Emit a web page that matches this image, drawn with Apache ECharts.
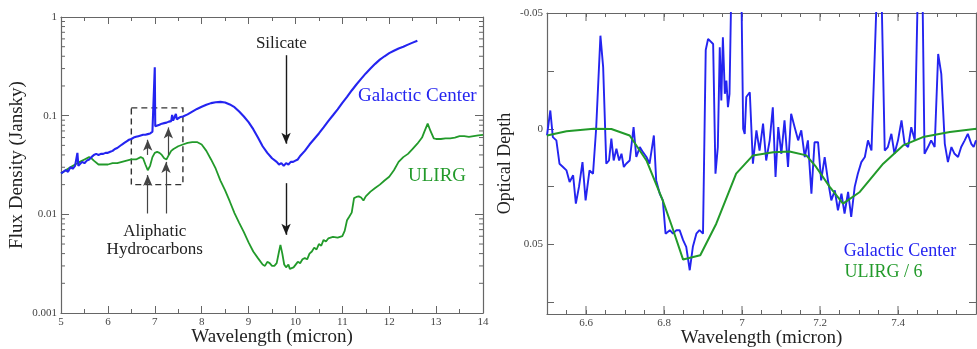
<!DOCTYPE html>
<html><head><meta charset="utf-8">
<script src="https://cdn.jsdelivr.net/npm/echarts@6/dist/echarts.min.js"></script>
<style>html,body{margin:0;padding:0;background:#fff}#c{width:977px;height:349px}</style>
</head><body><div id="c"></div>
<script>
// ---------- data ----------
const galacticCenterFlux = [
[5.00,0.026],[5.05,0.027],[5.10,0.028],[5.15,0.027],[5.20,0.030],[5.25,0.029],[5.30,0.031],[5.33,0.030],[5.35,0.042],[5.37,0.031],
[5.40,0.032],[5.45,0.034],[5.50,0.033],[5.55,0.035],[5.60,0.036],[5.65,0.038],[5.70,0.040],[5.75,0.041],[5.80,0.040],[5.85,0.041],
[5.90,0.041],[5.95,0.042],[6.00,0.042],[6.05,0.043],[6.10,0.044],[6.15,0.046],[6.20,0.047],[6.25,0.049],[6.30,0.051],[6.35,0.053],
[6.40,0.055],[6.45,0.057],[6.50,0.058],[6.55,0.060],[6.60,0.061],[6.65,0.062],[6.70,0.063],[6.75,0.064],[6.80,0.064],[6.85,0.065],
[6.90,0.066],[6.95,0.069],[6.98,0.072],[7.00,0.31],[7.01,0.078],[7.05,0.079],[7.10,0.081],[7.15,0.083],[7.20,0.084],[7.25,0.085],
[7.30,0.087],[7.35,0.088],[7.37,0.102],[7.39,0.089],[7.43,0.090],[7.45,0.104],[7.47,0.092],[7.50,0.094],[7.55,0.097],[7.60,0.098],
[7.70,0.103],[7.80,0.110],[7.90,0.117],[8.00,0.123],[8.10,0.129],[8.20,0.134],[8.30,0.137],[8.40,0.138],[8.50,0.136],[8.60,0.130],
[8.70,0.122],[8.80,0.110],[8.90,0.098],[9.00,0.086],[9.10,0.073],[9.20,0.060],[9.30,0.049],[9.40,0.042],[9.50,0.037],[9.60,0.034],
[9.65,0.032],[9.70,0.033],[9.75,0.031],[9.80,0.033],[9.85,0.032],[9.90,0.034],[9.95,0.034],[10.00,0.035],[10.05,0.036],[10.10,0.039],
[10.20,0.044],[10.30,0.051],[10.40,0.058],[10.50,0.066],[10.60,0.076],[10.70,0.088],[10.80,0.101],[10.90,0.116],[11.00,0.135],[11.10,0.155],
[11.20,0.180],[11.30,0.207],[11.40,0.236],[11.50,0.268],[11.60,0.300],[11.70,0.335],[11.80,0.370],[11.90,0.400],[12.00,0.430],[12.10,0.455],
[12.20,0.480],[12.30,0.500],[12.40,0.525],[12.50,0.550],[12.60,0.575]
];
const ulirgFlux = [
[5.00,0.026],[5.10,0.028],[5.20,0.030],[5.30,0.032],[5.40,0.034],[5.50,0.036],[5.60,0.038],[5.65,0.037],[5.70,0.035],[5.80,0.032],
[5.90,0.032],[6.00,0.032],[6.10,0.033],[6.20,0.033],[6.30,0.034],[6.40,0.035],[6.50,0.036],[6.60,0.036],[6.70,0.038],[6.75,0.037],
[6.80,0.032],[6.85,0.028],[6.90,0.031],[6.95,0.038],[7.00,0.042],[7.05,0.043],[7.10,0.042],[7.15,0.040],[7.20,0.037],[7.25,0.036],
[7.30,0.040],[7.35,0.044],[7.40,0.046],[7.50,0.049],[7.60,0.051],[7.70,0.053],[7.80,0.054],[7.90,0.054],[8.00,0.051],[8.10,0.044],
[8.20,0.036],[8.30,0.029],[8.40,0.022],[8.50,0.0175],[8.60,0.0135],[8.70,0.0103],[8.80,0.0082],[8.90,0.0066],[9.00,0.0052],[9.10,0.0042],
[9.20,0.0036],[9.30,0.0031],[9.35,0.0030],[9.40,0.0033],[9.45,0.0032],[9.50,0.0030],[9.55,0.0030],[9.60,0.0032],[9.65,0.0042],[9.68,0.0049],
[9.72,0.0040],[9.76,0.0031],[9.80,0.0029],[9.85,0.0031],[9.88,0.0028],[9.92,0.0027],[9.96,0.0029],[10.00,0.0030],[10.05,0.0033],[10.10,0.0032],
[10.15,0.0035],[10.20,0.0036],[10.25,0.0035],[10.30,0.0040],[10.35,0.0042],[10.40,0.0046],[10.45,0.0044],[10.50,0.0050],[10.55,0.0048],[10.60,0.0055],
[10.65,0.0053],[10.70,0.0057],[10.75,0.0058],[10.80,0.0059],[10.90,0.0058],[11.00,0.0060],[11.05,0.0068],[11.10,0.0087],[11.15,0.0095],[11.20,0.0104],
[11.25,0.0146],[11.30,0.0150],[11.35,0.0152],[11.40,0.0148],[11.45,0.0138],[11.50,0.0152],[11.60,0.0170],[11.70,0.0185],[11.80,0.020],[11.90,0.022],
[12.00,0.024],[12.10,0.028],[12.20,0.034],[12.30,0.038],[12.40,0.041],[12.50,0.046],[12.60,0.052],[12.70,0.060],[12.75,0.069],[12.82,0.083],
[12.88,0.070],[12.95,0.059],[13.00,0.058],[13.10,0.058],[13.20,0.059],[13.30,0.059],[13.40,0.060],[13.50,0.062],[13.60,0.062],[13.70,0.061],
[13.80,0.062],[13.90,0.063],[14.00,0.064]
];
const galacticCenterTau = [
[6.500,0.0029],[6.5085,-0.0079],[6.515,0.0036],[6.524,0.0050],[6.532,0.0151],[6.541,0.0165],[6.550,0.0180],[6.558,0.0230],[6.567,0.0201],[6.574,0.0323],
[6.582,0.0251],[6.591,0.0144],[6.599,0.0309],[6.609,0.0180],[6.618,0.0194],[6.626,0.0000],[6.637,-0.0402],[6.644,-0.0266],[6.652,0.0151],[6.659,0.0137],
[6.665,0.0043],[6.671,0.0137],[6.678,0.0086],[6.685,0.0137],[6.691,0.0108],[6.697,0.0165],[6.703,0.0151],[6.712,0.0137],[6.722,-0.0007],[6.729,0.0122],
[6.738,0.0079],[6.746,0.0101],[6.755,0.0122],[6.763,0.0151],[6.774,0.0029],[6.780,0.0223],[6.789,0.0280],[6.797,0.0309],[6.804,0.0453],[6.815,0.0438],
[6.823,0.0453],[6.832,0.0438],[6.840,0.0438],[6.849,0.0481],[6.857,0.0510],[6.866,0.0611],[6.874,0.0510],[6.883,0.0453],[6.891,0.0438],[6.900,0.0453],
[6.907,-0.0340],[6.913,-0.0388],[6.917,-0.0388],[6.926,-0.0366],[6.932,0.0194],[6.938,0.0079],[6.943,-0.0352],[6.947,-0.0122],[6.951,-0.0395],[6.956,-0.0151],
[6.960,-0.0208],[6.964,-0.0093],[6.968,-0.0151],[6.973,-0.0650],[6.985,-0.0800],[6.998,-0.0650],[7.003,0.0000],[7.007,0.0022],[7.011,-0.0137],[7.020,-0.0158],
[7.028,0.0151],[7.037,0.0007],[7.045,0.0094],[7.054,-0.0022],[7.062,0.0137],[7.071,0.0050],[7.079,-0.0093],[7.086,0.0208],[7.093,-0.0007],[7.101,0.0108],
[7.109,-0.0036],[7.118,0.0165],[7.126,-0.0065],[7.135,-0.0007],[7.144,0.0050],[7.152,0.0007],[7.161,0.0122],[7.169,0.0050],[7.178,0.0280],[7.186,0.0058],
[7.195,0.0058],[7.203,0.0223],[7.212,0.0122],[7.221,0.0230],[7.229,0.0309],[7.238,0.0266],[7.246,0.0352],[7.255,0.0280],[7.263,0.0366],[7.272,0.0273],
[7.280,0.0381],[7.289,0.0251],[7.297,0.0194],[7.306,0.0144],[7.315,0.0122],[7.323,0.0050],[7.332,0.0094],[7.340,-0.0300],[7.349,-0.0750],[7.357,-0.0650],
[7.366,0.0094],[7.374,0.0079],[7.383,0.0022],[7.391,0.0108],[7.400,0.0050],[7.409,-0.0036],[7.417,0.0065],[7.426,0.0079],[7.434,-0.0007],[7.443,0.0050],
[7.452,-0.0700],[7.462,-0.0700],[7.468,0.0108],[7.477,0.0079],[7.485,0.0050],[7.494,0.0079],[7.503,-0.0323],[7.511,-0.0237],[7.520,0.0065],[7.528,0.0144],
[7.537,0.0079],[7.545,0.0108],[7.554,0.0122],[7.562,0.0079],[7.571,0.0050],[7.579,0.0022],[7.588,0.0065],[7.594,0.0079],[7.600,0.0050]
];
const ulirgTauDiv6 = [
[6.500,0.0029],[6.550,0.0011],[6.620,0.0000],[6.665,0.0001],[6.712,0.0029],[6.755,0.0137],[6.797,0.0310],[6.820,0.0420],[6.849,0.0565],[6.893,0.0546],
[6.934,0.0410],[6.985,0.0194],[7.028,0.0115],[7.080,0.0101],[7.122,0.0098],[7.165,0.0115],[7.190,0.0165],[7.225,0.0251],[7.259,0.0323],[7.302,0.0273],
[7.362,0.0151],[7.413,0.0072],[7.464,0.0036],[7.533,0.0014],[7.601,0.0000]
];
const leftYTickLabels = ['0.001','0.01','0.1','1'];
const rightYTickLabels = ['-0.05','0','0.05'];
const rightXTickLabels = ['6.6','6.8','7','7.2','7.4'];

// ---------- chart ----------
const FONT = '"Liberation Serif","DejaVu Serif",serif';
const BLUE = '#2424f0', GREEN = '#229a2a', AXIS = '#666', LBL = '#444';
const chart = echarts.init(document.getElementById('c'), null, {renderer:'canvas'});

function axisBase(extra){
  return Object.assign({
    axisLine:{show:true,onZero:false,lineStyle:{color:AXIS,width:1.2}},
    axisTick:{show:true,inside:true,length:7,lineStyle:{color:AXIS,width:1}},
    splitLine:{show:false},
    nameMoveOverlap:false,
    axisLabel:{fontFamily:FONT,fontSize:11,color:LBL,margin:5}
  }, extra);
}
function near(a,b){return Math.abs(a-b)<1e-6;}

const option = {
  animation:false,
  backgroundColor:'#fff',
  grid:[
    {left:61,top:17,right:494,bottom:36,outerBoundsMode:'none',containLabel:false},
    {left:547,top:13,right:1,bottom:35,outerBoundsMode:'none',containLabel:false}
  ],
  xAxis:[
    axisBase({gridIndex:0,type:'value',min:5,max:14,interval:1,position:'bottom',
      minorTick:{show:true,splitNumber:2,length:4,lineStyle:{color:AXIS}},
      axisLabel:{fontFamily:FONT,fontSize:11,color:LBL,margin:4},
      name:'Wavelength (micron)',nameLocation:'middle',nameGap:15,
      nameTextStyle:{fontFamily:FONT,fontSize:19,color:'#222'}}),
    axisBase({gridIndex:0,type:'value',min:5,max:14,interval:1,position:'top',
      minorTick:{show:true,splitNumber:2,length:4,lineStyle:{color:AXIS}},
      axisLabel:{show:false}}),
    axisBase({gridIndex:1,type:'value',min:6.5,max:7.6,interval:0.05,position:'bottom',
      axisTick:{show:true,inside:true,length:4,lineStyle:{color:AXIS,width:1}},
      axisLabel:{fontFamily:FONT,fontSize:11,color:LBL,margin:4,showMinLabel:true,showMaxLabel:true,
        formatter:v=>{const s=rightXTickLabels.find(t=>near(parseFloat(t),v));return s||'';}},
      name:'Wavelength (micron)',nameLocation:'middle',nameGap:15,
      nameTextStyle:{fontFamily:FONT,fontSize:19,color:'#222'}}),
    axisBase({gridIndex:1,type:'value',min:6.5,max:7.6,interval:0.05,position:'top',
      axisTick:{show:true,inside:true,length:4,lineStyle:{color:AXIS,width:1}},
      axisLabel:{show:false}})
  ],
  yAxis:[
    axisBase({gridIndex:0,type:'log',logBase:10,min:0.001,max:1,position:'left',
      axisTick:{show:true,inside:true,length:8,lineStyle:{color:AXIS,width:1}},
      axisLabel:{fontFamily:FONT,fontSize:11,color:LBL,margin:4,
        formatter:v=>{const s=leftYTickLabels.find(t=>Math.abs(Math.log10(parseFloat(t))-Math.log10(v))<1e-6);return s||'';}},
      name:'Flux Density (Jansky)',nameLocation:'middle',nameGap:34,
      nameTextStyle:{fontFamily:FONT,fontSize:19,color:'#222'}}),
    axisBase({gridIndex:0,type:'log',logBase:10,min:0.001,max:1,position:'right',
      axisTick:{show:true,inside:true,length:8,lineStyle:{color:AXIS,width:1}},
      axisLabel:{show:false}}),
    axisBase({gridIndex:1,type:'value',min:-0.05,max:0.08,interval:0.025,inverse:true,position:'left',
      axisTick:{show:true,inside:true,length:7,lineStyle:{color:AXIS,width:1}},
      axisLabel:{fontFamily:FONT,fontSize:11,color:LBL,margin:4,showMaxLabel:false,
        formatter:v=>{const s=rightYTickLabels.find(t=>near(parseFloat(t),v));return s||'';}},
      name:'Optical Depth',nameLocation:'middle',nameGap:33,
      nameTextStyle:{fontFamily:FONT,fontSize:18,color:'#222'}}),
    axisBase({gridIndex:1,type:'value',min:-0.05,max:0.08,interval:0.025,inverse:true,position:'right',
      axisTick:{show:true,inside:true,length:7,lineStyle:{color:AXIS,width:1}},
      axisLabel:{show:false}})
  ],
  series:[
    {type:'line',name:'ULIRG',xAxisIndex:0,yAxisIndex:0,data:ulirgFlux,showSymbol:false,symbol:'none',
      lineStyle:{color:GREEN,width:1.8},itemStyle:{color:GREEN},silent:true,z:2,
      markLine:{silent:true,symbol:['none','arrow'],symbolSize:[7,11],label:{show:false},
        lineStyle:{color:'#1a1a1a',width:1.4,type:'solid'},
        data:[
          [{coord:[9.8,0.41]},{coord:[9.8,0.052]}],
          [{coord:[9.8,0.0207]},{coord:[9.8,0.0062]}],
          [{coord:[6.85,0.040],lineStyle:{color:'#444',width:1.2}},{coord:[6.85,0.057]}],
          [{coord:[7.29,0.040],lineStyle:{color:'#444',width:1.2}},{coord:[7.29,0.076]}],
          [{coord:[6.85,0.0102],lineStyle:{color:'#444',width:1.2}},{coord:[6.85,0.025]}],
          [{coord:[7.24,0.0102],lineStyle:{color:'#444',width:1.2}},{coord:[7.24,0.034]}]
        ]},
      markArea:{silent:true,label:{show:false},
        itemStyle:{color:'rgba(0,0,0,0)',borderColor:'#333',borderWidth:1.4,borderType:[6,4]},
        data:[[{coord:[6.5,0.12]},{coord:[7.6,0.02]}]]}
    },
    {type:'line',name:'Galactic Center',xAxisIndex:0,yAxisIndex:0,data:galacticCenterFlux,showSymbol:false,symbol:'none',
      lineStyle:{color:BLUE,width:2.1},itemStyle:{color:BLUE},silent:true,z:3},
    {type:'line',name:'Galactic Center tau',xAxisIndex:2,yAxisIndex:2,data:galacticCenterTau,showSymbol:false,symbol:'none',
      lineStyle:{color:BLUE,width:1.9},itemStyle:{color:BLUE},silent:true,clip:true,z:2},
    {type:'line',name:'ULIRG / 6',xAxisIndex:2,yAxisIndex:2,data:ulirgTauDiv6,showSymbol:false,symbol:'none',
      lineStyle:{color:GREEN,width:2},itemStyle:{color:GREEN},silent:true,clip:true,z:3}
  ]
};
chart.setOption(option);

// ---------- annotations, log minor ticks, major x ticks of right panel ----------
function px(grid, x, y){
  return grid===0 ? chart.convertToPixel({xAxisIndex:0,yAxisIndex:0},[x,y])
                  : chart.convertToPixel({xAxisIndex:2,yAxisIndex:2},[x,y]);
}
function txt(grid,x,y,text,color,size,align){
  const p = px(grid,x,y);
  return {type:'text',x:p[0],y:p[1],silent:true,z:10,
    style:{text:text,fill:color,font:size+'px '+FONT,align:align||'center',verticalAlign:'middle'}};
}
const g = [
  txt(0,9.70,0.54,'Silicate','#222',17),
  txt(0,7.0,0.00665,'Aliphatic','#222',17),
  txt(0,7.0,0.00435,'Hydrocarbons','#222',17),
  txt(0,12.60,0.16,'Galactic Center',BLUE,19),
  txt(0,13.02,0.0242,'ULIRG',GREEN,19),
  txt(1,7.405,0.053,'Galactic Center',BLUE,18),
  txt(1,7.263,0.0621,'ULIRG / 6',GREEN,18,'left')
];
const xl = chart.convertToPixel({xAxisIndex:0},5), xr = chart.convertToPixel({xAxisIndex:0},14);
[0.001,0.01,0.1].forEach(d=>{
  for(let k=2;k<=9;k++){
    const y = chart.convertToPixel({yAxisIndex:0},k*d);
    g.push({type:'line',silent:true,shape:{x1:xl,y1:y,x2:xl+4,y2:y},style:{stroke:AXIS,lineWidth:1}});
    g.push({type:'line',silent:true,shape:{x1:xr-4,y1:y,x2:xr,y2:y},style:{stroke:AXIS,lineWidth:1}});
  }
});
const ryTop = chart.convertToPixel({yAxisIndex:2},-0.05), ryBot = chart.convertToPixel({yAxisIndex:2},0.08);
rightXTickLabels.forEach(t=>{
  const x = chart.convertToPixel({xAxisIndex:2},parseFloat(t));
  g.push({type:'line',silent:true,shape:{x1:x,y1:ryTop,x2:x,y2:ryTop+8},style:{stroke:AXIS,lineWidth:1}});
  g.push({type:'line',silent:true,shape:{x1:x,y1:ryBot-8,x2:x,y2:ryBot},style:{stroke:AXIS,lineWidth:1}});
});
chart.setOption({graphic:g});
</script>
</body></html>
